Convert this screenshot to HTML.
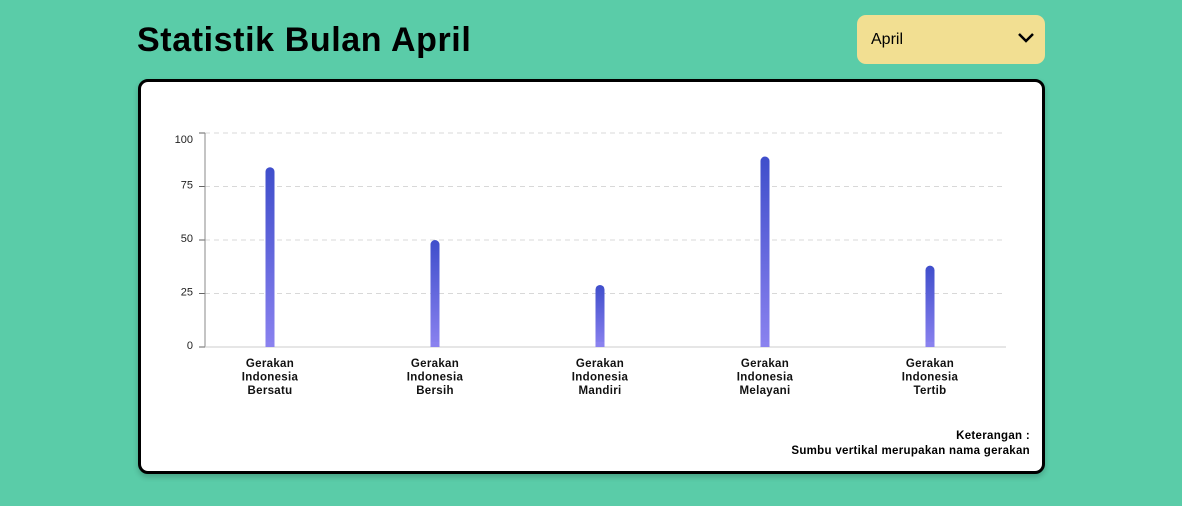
<!DOCTYPE html>
<html><head><meta charset="utf-8"><style>
body{margin:0;width:1182px;height:506px;background:#5acca8;font-family:"Liberation Sans",sans-serif;position:relative;overflow:hidden}
.title{position:absolute;left:137px;top:21px;font-size:34px;font-weight:bold;color:#000;letter-spacing:0.6px}
.dd{position:absolute;left:857px;top:15px;width:188px;height:49px;background:#f2df92;border-radius:9px;box-sizing:border-box}
.dd span{position:absolute;left:14px;top:16px;font-size:16px}
.dd svg{position:absolute;right:10px;top:17px}
.card{position:absolute;left:138px;top:79px;width:907px;height:395px;box-sizing:border-box;border:3px solid #000;border-radius:10px;background:#fff;box-shadow:0 3px 6px rgba(0,0,0,.2)}
.note{position:absolute;right:12px;top:347px;text-align:right;font-size:11.5px;font-weight:bold;line-height:15px;letter-spacing:0.3px}
</style></head><body>
<div class="title">Statistik Bulan April</div>
<div class="dd"><span>April</span>
<svg width="18" height="12" viewBox="0 0 18 12"><path d="M2 2 L9 9 L16 2" stroke="#000" stroke-width="2.5" fill="none"/></svg></div>
<div class="card">
<svg id="chart" width="901" height="389" style="position:absolute;left:0;top:0">
<defs><linearGradient id="g" x1="0" y1="0" x2="0" y2="1"><stop offset="0" stop-color="#3f4ecb"/><stop offset="1" stop-color="#8a82ef"/></linearGradient></defs>
</svg>
<div class="note">Keterangan :<br>Sumbu vertikal merupakan nama gerakan</div>
</div>
<script>
const categories=[["Gerakan","Indonesia","Bersatu"],["Gerakan","Indonesia","Bersih"],["Gerakan","Indonesia","Mandiri"],["Gerakan","Indonesia","Melayani"],["Gerakan","Indonesia","Tertib"]];
const values=[84,50,29,89,38];
const ticks=[0,25,50,75,100];
const svg=document.getElementById('chart');
const NS='http://www.w3.org/2000/svg';
const ox=141,oy=82;
const x0=205-ox,x1=1006-ox,y0=347-oy,y1=133-oy;
const y=v=>y0+(y1-y0)*v/100;
const xc=i=>270-ox+i*165;
function mk(t,a){const e=document.createElementNS(NS,t);for(const k in a)e.setAttribute(k,a[k]);svg.appendChild(e);return e;}
ticks.forEach(t=>{
 if(t>0){const l=mk('line',{x1:x0,x2:x1,y1:y(t),y2:y(t),stroke:'#d8d8d8','stroke-dasharray':'5 4'});
 
 }
 mk('line',{x1:x0-6,x2:x0,y1:y(t),y2:y(t),stroke:'#666'});
 const tx=mk('text',{x:x0-12,y:y(t)+(t==100?10:2),'text-anchor':'end','font-size':11,fill:'#222'});tx.textContent=t;
 
 
});
mk('line',{x1:x0,x2:x0,y1:y1,y2:y0,stroke:'#888'});
mk('line',{x1:x0,x2:x1,y1:y0,y2:y0,stroke:'#ccc'});
values.forEach((v,i)=>{
 const cx=xc(i),top=y(v);
 const r=mk('rect',{x:cx-4.5,y:top,width:9,height:y0-top,rx:4.5,fill:'url(#g)'});
 
 
 mk('rect',{x:cx-4.5,y:y0-5,width:9,height:5,fill:'#8a82ef'});
 categories[i].forEach((s,j)=>{const t=mk('text',{x:cx,y:y0+20+j*13.5,'text-anchor':'middle','font-size':11.5,'font-weight':'bold',fill:'#111','letter-spacing':0.3});t.textContent=s;
 
 });
});
</script>
</body></html>
